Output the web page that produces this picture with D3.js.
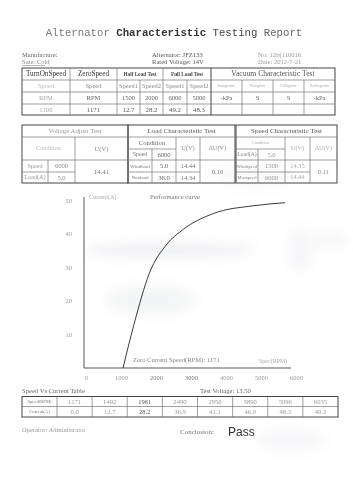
<!DOCTYPE html>
<html><head><meta charset="utf-8">
<script src="https://cdn.jsdelivr.net/npm/d3@7"></script>
<style>
html,body{margin:0;padding:0;background:#fff;}
svg{display:block;font-family:"Liberation Serif","DejaVu Serif",serif;}
</style></head>
<body>
<svg id="c" width="353" height="500"></svg>
<script>
// ---------- data ----------
const titleParts = ["Alternator ", "Characteristic ", "Testing ", "Report"];
const infoLeft = ["Manufacture:", "Sate: Cold"];
const infoMid = ["Alternator: JFZ133", "Rated Voltage: 14V"];
const infoRight = ["No: 12b(110016", "Date: 2012-7-21"];

const t1Head = ["TurnOnSpeed", "ZeroSpeed", "Half Load Test", "Full Load Test", "Vacuum Characteristic Test"];
const t1Sub = ["Speed", "Speed", "Speed1", "Speed2", "Speed1", "Speed2", "Ismagnetize", "Risingtime", "Fallingtime", "Holdingvalue"];
const t1Unit = ["RPM", "RPM", "1500", "2000", "6000", "5000", "-kPa", "S", "S", "-kPa"];
const t1Val = ["1100", "1171", "12.7", "28.2", "49.2", "48.3", "", "", "", ""];

const voltTitle = "Voltage Adjust Test";
const voltCond = [["Speed", "6000"], ["Load(A)", "5.0"]];
const voltU = "14.41";

const loadTitle = "Load Characteristic Test";
const loadCond = [["Speed", "6000"], ["Windload", "5.0"], ["Nonload", "36.0"]];
const loadU = ["14.44", "14.34"];
const loadDU = "0.10";

const spdTitle = "Speed Characteristic Test";
const spdCond = [["Load(A)", "5.0"], ["Windspeed", "1500"], ["Maxspeed", "6000"]];
const spdU = ["14.35", "14.44"];
const spdDU = "0.11";

const speeds = [1171, 1492, 1961, 2490, 2956, 3890, 5096, 6035];
const currents = [0.0, 12.7, 28.2, 36.9, 41.1, 46.0, 48.3, 49.2];
const yTicks = [10, 20, 30, 40, 50];
const xTicks = [0, 1000, 2000, 3000, 4000, 5000, 6000];
const testVoltage = "13.50";
const zeroSpeed = 1171;

// ---------- helpers ----------
const svg = d3.select("#c");
const MONO = "'Liberation Mono','DejaVu Sans Mono',monospace";
function txt(x, y, s, o = {}) {
  const t = svg.append("text").attr("x", x).attr("y", y).text(s)
    .attr("font-size", o.size || 7).attr("fill", o.fill || "#555")
    .attr("text-anchor", o.anchor || "start")
    .attr("font-weight", o.weight || "normal")
    .attr("dominant-baseline", o.base || "auto");
  if (o.family) t.style("font-family", o.family);
  return t;
}
function cell(x0, x1, y0, y1, s, o = {}) {
  txt((x0 + x1) / 2, (y0 + y1) / 2 + 0.5, s, Object.assign({anchor: "middle", base: "middle"}, o));
}
function hline(x0, x1, y, c = "#777", w = 0.7) {
  svg.append("line").attr("x1", x0).attr("x2", x1).attr("y1", y).attr("y2", y).attr("stroke", c).attr("stroke-width", w);
}
function vline(x, y0, y1, c = "#777", w = 0.7) {
  svg.append("line").attr("x1", x).attr("x2", x).attr("y1", y0).attr("y2", y1).attr("stroke", c).attr("stroke-width", w);
}
function box(x0, x1, y0, y1) {
  svg.append("rect").attr("x", x0).attr("y", y0).attr("width", x1 - x0).attr("height", y1 - y0)
    .attr("fill", "none").attr("stroke", "#444").attr("stroke-width", 1);
}

// ---------- faint scan smudges (background texture) ----------
const defs = svg.append("defs");
defs.append("filter").attr("id", "blur").attr("x", "-50%").attr("y", "-50%").attr("width", "200%").attr("height", "200%")
  .append("feGaussianBlur").attr("stdDeviation", 6);
const smudges = [[170, 250, 85, 6, 0.16], [150, 300, 45, 14, 0.1], [300, 250, 12, 22, 0.08], [255, 175, 40, 12, 0.06], [290, 440, 35, 10, 0.08], [330, 240, 20, 8, 0.07]];
svg.append("g").attr("filter", "url(#blur)").selectAll("ellipse").data(smudges).join("ellipse")
  .attr("cx", d => d[0]).attr("cy", d => d[1]).attr("rx", d => d[2]).attr("ry", d => d[3])
  .attr("fill", "#8a8fa0").attr("opacity", d => d[4]);

// ---------- title ----------
const title = svg.append("text").attr("x", 174).attr("y", 36).attr("text-anchor", "middle")
  .style("font-family", MONO).attr("font-size", 10.7);
const tCols = ["#777", "#333", "#444", "#666"], tW = ["normal", "bold", "normal", "normal"];
titleParts.forEach((p, i) => title.append("tspan").text(p).attr("fill", tCols[i]).attr("font-weight", tW[i]));

// ---------- info ----------
infoLeft.forEach((s, i) => txt(22, 57 + i * 7, s, {size: 6.6, fill: i ? "#888" : "#666"}));
infoMid.forEach((s, i) => txt(152, 57 + i * 7, s, {size: 6.6, fill: "#555"}));
infoRight.forEach((s, i) => txt(258, 57 + i * 7, s, {size: 6.6, fill: "#999"}));
hline(22, 45, 65.5, "#888", 0.6);

// ---------- table 1 ----------
const c1 = [22, 70, 117, 140, 163, 187, 211, 242, 273, 304, 335];
const r1 = [68, 80, 92, 104, 115];
box(c1[0], c1[10], r1[0], r1[4]);
r1.slice(1, 4).forEach(y => hline(c1[0], c1[10], y));
c1.slice(1, 10).forEach((x, i) => {
  const idx = i + 1;
  const top = (idx === 3 || idx === 5 || idx >= 7) ? r1[1] : r1[0];
  vline(x, top, r1[4], idx === 6 ? "#444" : "#777", idx === 6 ? 1 : 0.7);
});
cell(c1[0], c1[1], r1[0], r1[1], t1Head[0], {size: 7.2, fill: "#333"});
cell(c1[1], c1[2], r1[0], r1[1], t1Head[1], {size: 7.2, fill: "#333"});
cell(c1[2], c1[4], r1[0], r1[1], t1Head[2], {size: 5.2, fill: "#444", weight: "bold"});
cell(c1[4], c1[6], r1[0], r1[1], t1Head[3], {size: 5.2, fill: "#444", weight: "bold"});
cell(c1[6], c1[10], r1[0], r1[1], t1Head[4], {size: 7.6, fill: "#555"});
t1Sub.forEach((s, i) => cell(c1[i], c1[i + 1], r1[1], r1[2], s,
  {size: i >= 6 ? 3.6 : (i >= 2 ? 6.4 : 6.6), fill: i === 0 ? "#bbb" : (i >= 6 ? "#aaa" : "#888")}));
t1Unit.forEach((s, i) => cell(c1[i], c1[i + 1], r1[2], r1[3], s, {size: 6.6, fill: i === 0 ? "#aaa" : "#666"}));
t1Val.forEach((s, i) => cell(c1[i], c1[i + 1], r1[3], r1[4], s, {size: 6.8, fill: i === 0 ? "#aaa" : "#555"}));

// ---------- table 2 : voltage adjust ----------
const rr = [125, 137, 149, 160, 172, 183];
const cv = [22, 48, 75, 128];
box(cv[0], cv[3], rr[0], rr[5]);
hline(cv[0], cv[3], rr[1]);
hline(cv[0], cv[3], rr[3]);
hline(cv[0], cv[2], rr[4]);
vline(cv[2], rr[1], rr[5]);
vline(cv[1], rr[3], rr[5]);
cell(cv[0], cv[3], rr[0], rr[1], voltTitle, {size: 6.8, fill: "#999"});
cell(cv[0], cv[2], rr[1], rr[3], "Condition", {size: 6.2, fill: "#bbb"});
cell(cv[2], cv[3], rr[1], rr[3], "U(V)", {size: 6.6, fill: "#888"});
voltCond.forEach((r, i) => {
  cell(cv[0], cv[1], rr[3 + i], rr[4 + i], r[0], {size: 6.2, fill: "#999"});
  cell(cv[1], cv[2], rr[3 + i], rr[4 + i], r[1], {size: 6.6, fill: "#888"});
});
cell(cv[2], cv[3], rr[3], rr[5], voltU, {size: 6.8, fill: "#777"});

// ---------- table 3 : load characteristic ----------
const cl = [128, 152, 176, 200, 235];
box(cl[0], cl[4], rr[0], rr[5]);
hline(cl[0], cl[4], rr[1]);
hline(cl[0], cl[2], rr[2]);
hline(cl[0], cl[4], rr[3]);
hline(cl[0], cl[3], rr[4]);
vline(cl[1], rr[2], rr[5]);
vline(cl[2], rr[1], rr[5]);
vline(cl[3], rr[1], rr[5]);
cell(cl[0], cl[4], rr[0], rr[1], loadTitle, {size: 7, fill: "#555"});
cell(cl[0], cl[2], rr[1], rr[2], "Condition", {size: 6.6, fill: "#666"});
cell(cl[2], cl[3], rr[1], rr[3], "U(V)", {size: 6.4, fill: "#888"});
cell(cl[3], cl[4], rr[1], rr[3], "ΔU(V)", {size: 6.4, fill: "#888"});
loadCond.forEach((r, i) => {
  cell(cl[0], cl[1], rr[2 + i], rr[3 + i], r[0], {size: i ? 5 : 6, fill: "#777"});
  cell(cl[1], cl[2], rr[2 + i], rr[3 + i], r[1], {size: 6.6, fill: "#666"});
});
loadU.forEach((s, i) => cell(cl[2], cl[3], rr[3 + i], rr[4 + i], s, {size: 6.6, fill: "#777"}));
cell(cl[3], cl[4], rr[3], rr[5], loadDU, {size: 6.6, fill: "#777"});

// ---------- table 4 : speed characteristic ----------
const cs = [236, 258, 285, 310, 337];
box(cs[0], cs[4], rr[0], rr[5]);
hline(cs[0], cs[4], rr[1]);
hline(cs[0], cs[2], rr[2]);
hline(cs[0], cs[4], rr[3]);
hline(cs[0], cs[3], rr[4]);
vline(cs[1], rr[2], rr[5]);
vline(cs[2], rr[1], rr[5]);
vline(cs[3], rr[1], rr[5]);
cell(cs[0], cs[4], rr[0], rr[1], spdTitle, {size: 7, fill: "#555"});
cell(cs[0], cs[2], rr[1], rr[2], "Condition", {size: 4.2, fill: "#aaa"});
cell(cs[2], cs[3], rr[1], rr[3], "U(V)", {size: 6.2, fill: "#aaa"});
cell(cs[3], cs[4], rr[1], rr[3], "ΔU(V)", {size: 6.2, fill: "#aaa"});
spdCond.forEach((r, i) => {
  cell(cs[0], cs[1], rr[2 + i], rr[3 + i], r[0], {size: i ? 4.6 : 5.6, fill: "#888"});
  cell(cs[1], cs[2], rr[2 + i], rr[3 + i], r[1], {size: 6.6, fill: "#999"});
});
spdU.forEach((s, i) => cell(cs[2], cs[3], rr[3 + i], rr[4 + i], s, {size: 6.4, fill: "#aaa"}));
cell(cs[3], cs[4], rr[3], rr[5], spdDU, {size: 6.6, fill: "#888"});

// ---------- performance chart ----------
const x = d3.scaleLinear().domain([0, 6000]).range([84, 284]);
const xl = d3.scaleLinear().domain([0, 6000]).range([86, 296]);
const y = d3.scaleLinear().domain([0, 50]).range([368, 200]);

const yAx = svg.append("g").attr("transform", "translate(84,0)")
  .call(d3.axisLeft(y).tickValues(yTicks).tickSize(0).tickSizeOuter(0).tickPadding(12));
yAx.select(".domain").attr("stroke", "#444").attr("stroke-width", 0.9).attr("d", "M0,368V197");
yAx.selectAll("text").attr("font-size", 6.4).attr("fill", "#999")
  .style("font-family", "'Liberation Serif',serif");

const xAx = svg.append("g").attr("transform", "translate(0,368)")
  .call(d3.axisBottom(xl).tickValues(xTicks).tickFormat(d3.format("d")).tickSize(0).tickPadding(7));
xAx.select(".domain").remove();
xAx.selectAll("text").attr("font-size", 6.4).attr("fill", (d) => d === 2000 || d === 3000 ? "#777" : "#999")
  .style("font-family", "'Liberation Serif',serif");
hline(84, 291, 368, "#444", 0.9);

const pts = speeds.map((s, i) => ({s, c: currents[i]}));
svg.append("path").datum(pts)
  .attr("d", d3.line().x(d => x(d.s)).y(d => y(d.c)).curve(d3.curveMonotoneX))
  .attr("fill", "none").attr("stroke", "#222").attr("stroke-width", 0.9);

txt(89, 199, "Current(A)", {size: 6.2, fill: "#aaa"});
txt(150, 199, "Performance curve", {size: 6.6, fill: "#777"});
txt(133, 362, "Zero Current Speed(RPM): " + zeroSpeed, {size: 6.6, fill: "#888"});
txt(259, 363, "Spec(RPM)", {size: 6, fill: "#aaa"});

// ---------- speed vs current table ----------
txt(22, 393, "Speed Vs Current Table", {size: 6.6, fill: "#666"});
txt(200, 393, "Test Voltage: " + testVoltage, {size: 6.6, fill: "#666"});
const ct = d3.scaleBand().domain(d3.range(speeds.length)).range([57, 338]);
const r3 = [396.5, 406.5, 417];
box(22, 338, r3[0], r3[2]);
hline(22, 338, r3[1]);
vline(57, r3[0], r3[2]);
speeds.forEach((s, i) => { if (i) vline(ct(i), r3[0], r3[2]); });
cell(22, 57, r3[0], r3[1], "Speed(RPM)", {size: 4.6, fill: "#777"});
cell(22, 57, r3[1], r3[2], "Current(A)", {size: 4.6, fill: "#777"});
speeds.forEach((s, i) => cell(ct(i), ct(i) + ct.bandwidth(), r3[0], r3[1], String(s),
  {size: 6.6, fill: i === 2 ? "#555" : "#999"}));
currents.forEach((c, i) => cell(ct(i), ct(i) + ct.bandwidth(), r3[1], r3[2], c.toFixed(1),
  {size: 6.6, fill: i === 2 ? "#555" : "#999"}));

// ---------- footer ----------
txt(22, 432, "Operator: Administrator", {size: 6.6, fill: "#999"});
txt(180, 434, "Conclusion:", {size: 7, fill: "#777"});
txt(228, 436, "Pass", {size: 12, fill: "#333", family: "'Liberation Sans',Arial,sans-serif"});
</script>
</body></html>
